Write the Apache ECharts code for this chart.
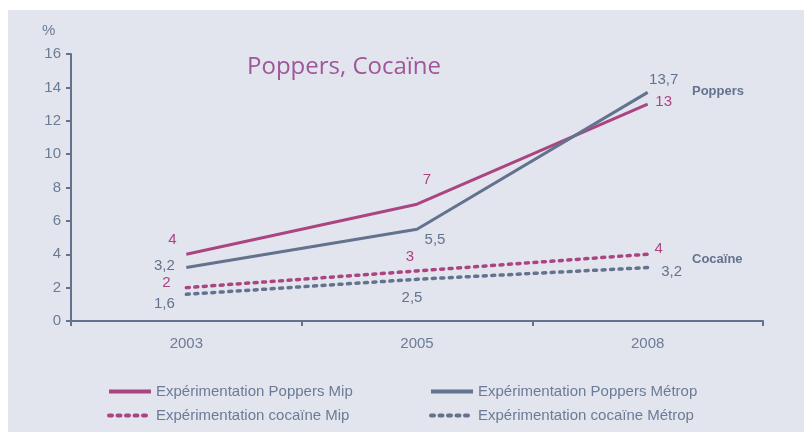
<!DOCTYPE html>
<html><head><meta charset="utf-8">
<script src="https://cdn.jsdelivr.net/npm/echarts@6/dist/echarts.min.js"></script>
<style>html,body{margin:0;padding:0;background:#fff}#c{width:804px;height:432px}</style>
</head><body><div id="c"></div>
<script>
const years = ['2003', '2005', '2008'];
const poppersMip = [4, 7, 13];
const poppersMetrop = [3.2, 5.5, 13.7];
const cocaineMip = [2, 3, 4];
const cocaineMetrop = [1.6, 2.5, 3.2];
const yTicks = [0, 2, 4, 6, 8, 10, 12, 14, 16];
const names = ['Expérimentation Poppers Mip', 'Expérimentation Poppers Métrop', 'Expérimentation cocaïne Mip', 'Expérimentation cocaïne Métrop'];

const PINK = '#ab4582';
const BLUE = '#63728f';
const TXT = '#6c7b96';
const fmt = v => String(v).replace('.', ',');

function labelled(values, color, offsets) {
  return values.map((v, i) => ({
    value: v,
    label: {show: true, position: 'inside', offset: offsets[i], color: color, fontSize: 15, fontFamily: 'Liberation Sans', formatter: p => fmt(p.value)}
  }));
}

const legendBase = {
  orient: 'vertical', itemGap: 9, itemWidth: 42, itemHeight: 10,
  itemStyle: {opacity: 0},
  lineStyle: {width: 4},
  textStyle: {color: TXT, fontSize: 15, fontFamily: 'Liberation Sans'}
};

const chart = echarts.init(document.getElementById('c'));
chart.setOption({
  animation: false,
  graphic: [
    {type: 'rect', z: -10, shape: {x: 8, y: 10, width: 796, height: 422}, style: {fill: '#e2e5ed'}},
    {type: 'text', left: 247, top: 55, style: {text: 'Poppers, Cocaïne', fill: '#a0569a', font: '24px "Open Sans"'}},
    {type: 'text', left: 42, top: 23, style: {text: '%', fill: TXT, font: '15px "Liberation Sans"'}},
    {type: 'text', left: 692, top: 85, style: {text: 'Poppers', fill: BLUE, font: 'bold 13px "Liberation Sans"'}},
    {type: 'text', left: 692, top: 253, style: {text: 'Cocaïne', fill: BLUE, font: 'bold 13px "Liberation Sans"'}}
  ],
  grid: {left: 71, right: 41, top: 54, bottom: 111},
  xAxis: {
    type: 'category', data: years, boundaryGap: true,
    axisLine: {lineStyle: {color: BLUE, width: 2}},
    axisTick: {show: true, length: 5, lineStyle: {color: BLUE, width: 2}},
    axisLabel: {color: TXT, fontSize: 15, fontFamily: 'Liberation Sans', margin: 15}
  },
  yAxis: {
    type: 'value', min: yTicks[0], max: yTicks[yTicks.length - 1], interval: 2,
    axisLine: {show: true, lineStyle: {color: BLUE, width: 2}},
    axisTick: {show: true, length: 5, lineStyle: {color: BLUE, width: 2}},
    splitLine: {show: false},
    axisLabel: {color: TXT, fontSize: 15, fontFamily: 'Liberation Sans', margin: 10}
  },
  legend: [
    Object.assign({left: 102, top: 379, data: [names[0], names[2]]}, legendBase),
    Object.assign({left: 424, top: 379, data: [names[1], names[3]]}, legendBase)
  ],
  series: [
    {name: names[0], type: 'line', symbol: 'circle', symbolSize: 0.01, color: PINK, lineStyle: {color: PINK, width: 3},
     data: labelled(poppersMip, PINK, [[-14, -14], [10, -24], [16, -2]])},
    {name: names[1], type: 'line', symbol: 'circle', symbolSize: 0.01, color: BLUE, lineStyle: {color: BLUE, width: 3},
     data: labelled(poppersMetrop, BLUE, [[-22, -2], [18, 11], [16, -13]])},
    {name: names[2], type: 'line', symbol: 'circle', symbolSize: 0.01, color: PINK, lineStyle: {color: PINK, width: 3.5, type: [3, 5.5], cap: 'round'},
     data: labelled(cocaineMip, PINK, [[-20, -5], [-7, -14], [11, -5]])},
    {name: names[3], type: 'line', symbol: 'circle', symbolSize: 0.01, color: BLUE, lineStyle: {color: BLUE, width: 3.5, type: [3, 5.5], cap: 'round'},
     data: labelled(cocaineMetrop, BLUE, [[-22, 10], [-5, 19], [24, 4]])}
  ]
});
</script></body></html>
